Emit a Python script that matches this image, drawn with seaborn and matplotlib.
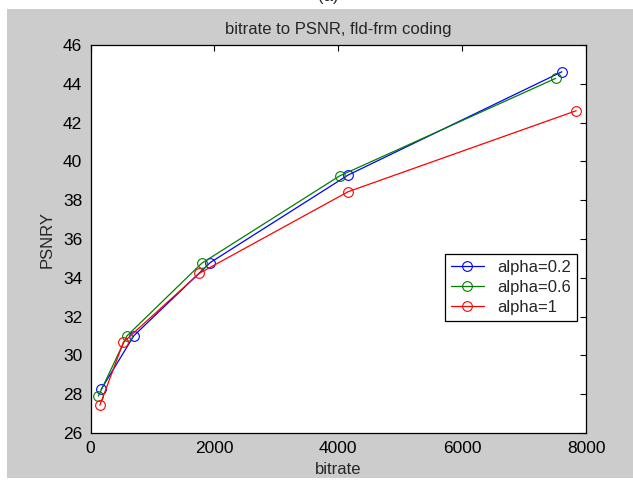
import matplotlib
matplotlib.use("Agg")
import matplotlib.pyplot as plt
from matplotlib.patches import Rectangle
import seaborn as sns
import pandas as pd

# Rate–distortion points for field/frame coding at three alpha settings
bitrate_a02 = [170, 700, 1930, 4160, 7610]
psnr_a02 = [28.25, 31.02, 34.78, 39.30, 44.62]

bitrate_a06 = [125, 585, 1795, 4020, 7510]
psnr_a06 = [27.90, 31.00, 34.75, 39.25, 44.28]

bitrate_a1 = [150, 530, 1755, 4160, 7840]
psnr_a1 = [27.43, 30.68, 34.23, 38.44, 42.61]

series_labels = ["alpha=0.2", "alpha=0.6", "alpha=1"]
x_ticks = [0, 2000, 4000, 6000, 8000]
y_ticks = [26, 28, 30, 32, 34, 36, 38, 40, 42, 44, 46]

sns.set_theme(style="white")
plt.rcParams["font.family"] = ["Liberation Sans", "DejaVu Sans"]
plt.rcParams["font.size"] = 12

fig = plt.figure(figsize=(6.33, 4.82), dpi=100, facecolor="white")
# grey window panel behind the axes
fig.patches.append(Rectangle((7 / 633, 4 / 482), 626 / 633, 469 / 482,
                             transform=fig.transFigure, facecolor="#cccccc",
                             edgecolor="none", zorder=-10))
fig.text(328 / 633, 1 + 3 / 482, "(a)", ha="center", va="center", fontsize=12)

ax = fig.add_axes([90.6 / 633, 49 / 482, 495.4 / 633, 388 / 482])
ax.set_facecolor("white")

frames = [
    (bitrate_a02, psnr_a02, series_labels[0], (0, 0, 1)),
    (bitrate_a06, psnr_a06, series_labels[1], (0, 0.5, 0)),
    (bitrate_a1, psnr_a1, series_labels[2], (1, 0, 0)),
]
for xs, ys, lab, col in frames:
    df = pd.DataFrame({"bitrate": xs, "PSNRY": ys})
    sns.lineplot(data=df, x="bitrate", y="PSNRY", ax=ax, color=col, label=lab,
                 marker="o", markersize=7, markerfacecolor="none",
                 markeredgecolor=col, markeredgewidth=0.8, linewidth=0.9)

ax.set_xlim(0, 8000)
ax.set_ylim(26, 46)
ax.set_xticks(x_ticks)
ax.set_yticks(y_ticks)
ax.set_xticklabels([str(v) for v in x_ticks])
ax.set_yticklabels([str(v) for v in y_ticks])
ax.tick_params(direction="in", length=4.5, width=0.8, color="black",
               top=True, right=True, labelsize=12.5, pad=6, labelcolor="black")
for s in ax.spines.values():
    s.set_visible(True)
    s.set_color("black")
    s.set_linewidth(0.9)

ax.set_title("bitrate to PSNR, fld-frm coding", fontsize=12, pad=8)
ax.set_xlabel("bitrate", fontsize=12, labelpad=4)
ax.set_ylabel("PSNRY", fontsize=12, labelpad=6)

leg = ax.legend(loc="upper right", bbox_to_anchor=(0.982, 0.461),
                borderaxespad=0, fontsize=12, frameon=True, fancybox=False,
                handlelength=2.0, handletextpad=0.8, labelspacing=0.3,
                borderpad=0.35)
leg.get_frame().set_edgecolor("black")
leg.get_frame().set_linewidth(0.9)
leg.get_frame().set_facecolor("white")
leg.get_frame().set_alpha(1)

fig.savefig("out.png", dpi=100, facecolor=fig.get_facecolor())
